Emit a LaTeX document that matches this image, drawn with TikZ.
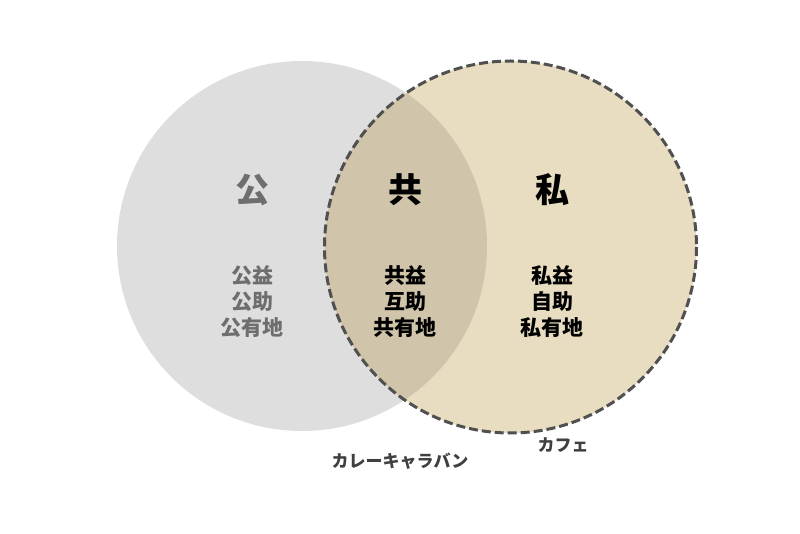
\documentclass[tikz,border=0pt]{standalone}
\usepackage{fontspec}
\setmainfont{Noto Sans CJK JP}
\definecolor{pubgray}{RGB}{222,222,222}
\definecolor{privbeige}{RGB}{232,220,193}
\definecolor{overlapc}{RGB}{208,196,170}
\definecolor{pubtext}{RGB}{110,110,110}
\definecolor{edgec}{RGB}{80,80,80}
\definecolor{labelc}{RGB}{64,64,64}
\tikzset{
  bigchar/.style={font=\fontsize{34}{34}\selectfont\bfseries, inner sep=0pt},
  listtxt/.style={font=\fontsize{21}{26}\selectfont\bfseries, align=center, inner sep=0pt},
  caption/.style={font=\fontsize{17}{17}\selectfont\bfseries, text=labelc, inner sep=0pt},
  dashedge/.style={draw=edgec, line width=3pt, dash pattern=on 9pt off 4pt}
}
\begin{document}
\begin{tikzpicture}[x=1pt,y=-1pt]
\useasboundingbox (0,0) rectangle (800,534);
\fill[white] (0,0) rectangle (800,534);
\coordinate (L) at (302,246);
\coordinate (R) at (510.5,247);
\fill[pubgray] (L) circle (185);
\fill[privbeige] (R) circle (186);
\begin{scope}
  \clip (L) circle (185);
  \fill[overlapc] (R) circle (186);
\end{scope}
\draw[dashedge] (R) circle (186);
\node[bigchar, text=pubtext] (ko) at (252,190) {公};
\node[bigchar] (kyo) at (405,190) {共};
\node[bigchar] (shi) at (552,190) {私};
\node[listtxt, text=pubtext] (kolist) at (252,302) {公益\\公助\\公有地};
\node[listtxt] (kyolist) at (405,302) {共益\\互助\\共有地};
\node[listtxt] (shilist) at (552,302) {私益\\自助\\私有地};
\node[caption] (curry) at (400,461) {カレーキャラバン};
\node[caption] (cafe) at (563,445) {カフェ};
\end{tikzpicture}
\end{document}
